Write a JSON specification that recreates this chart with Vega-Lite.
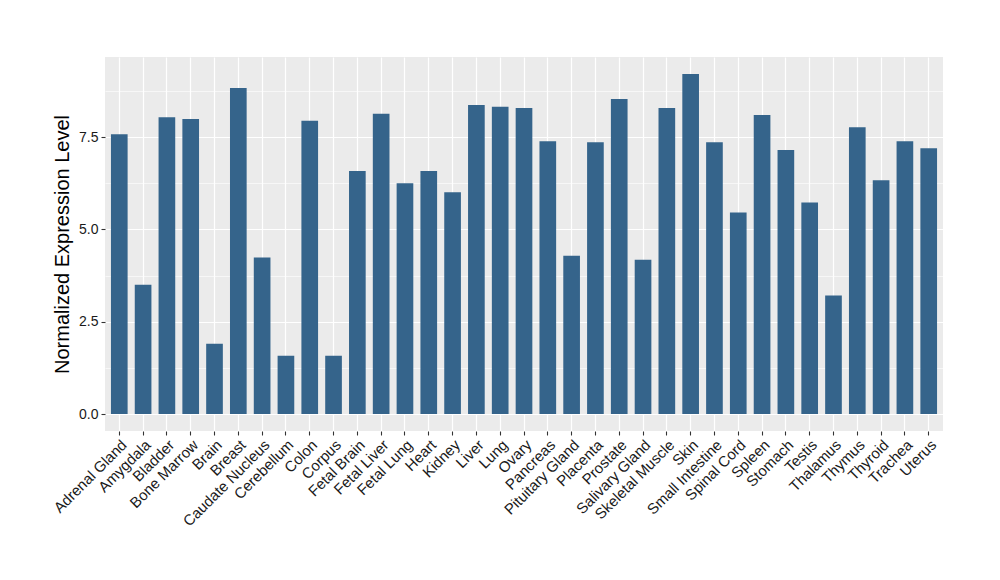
{
  "$schema": "https://vega.github.io/schema/vega-lite/v6.json",
  "width": 838,
  "height": 374,
  "autosize": {"type": "none"},
  "padding": {"left": 105, "top": 57, "right": 57, "bottom": 149},
  "background": "white",
  "config": {
    "view": {"fill": "#EBEBEB", "stroke": null},
    "font": "Liberation Sans"
  },
  "data": {
    "values": [
      {"tissue": "Adrenal Gland", "value": 7.58},
      {"tissue": "Amygdala", "value": 3.50},
      {"tissue": "Bladder", "value": 8.04},
      {"tissue": "Bone Marrow", "value": 7.99},
      {"tissue": "Brain", "value": 1.90},
      {"tissue": "Breast", "value": 8.83},
      {"tissue": "Caudate Nucleus", "value": 4.24},
      {"tissue": "Cerebellum", "value": 1.58},
      {"tissue": "Colon", "value": 7.94},
      {"tissue": "Corpus", "value": 1.58},
      {"tissue": "Fetal Brain", "value": 6.58},
      {"tissue": "Fetal Liver", "value": 8.13},
      {"tissue": "Fetal Lung", "value": 6.25},
      {"tissue": "Heart", "value": 6.58},
      {"tissue": "Kidney", "value": 6.01},
      {"tissue": "Liver", "value": 8.37},
      {"tissue": "Lung", "value": 8.32},
      {"tissue": "Ovary", "value": 8.29},
      {"tissue": "Pancreas", "value": 7.39},
      {"tissue": "Pituitary Gland", "value": 4.29},
      {"tissue": "Placenta", "value": 7.36},
      {"tissue": "Prostate", "value": 8.53},
      {"tissue": "Salivary Gland", "value": 4.18},
      {"tissue": "Skeletal Muscle", "value": 8.29},
      {"tissue": "Skin", "value": 9.21},
      {"tissue": "Small Intestine", "value": 7.36},
      {"tissue": "Spinal Cord", "value": 5.46},
      {"tissue": "Spleen", "value": 8.10},
      {"tissue": "Stomach", "value": 7.15},
      {"tissue": "Testis", "value": 5.73},
      {"tissue": "Thalamus", "value": 3.21},
      {"tissue": "Thymus", "value": 7.77},
      {"tissue": "Thyroid", "value": 6.33},
      {"tissue": "Trachea", "value": 7.39},
      {"tissue": "Uterus", "value": 7.20}
    ]
  },
  "mark": {"type": "bar", "color": "#35648B"},
  "encoding": {
    "x": {
      "field": "tissue",
      "type": "nominal",
      "sort": null,
      "scale": {"paddingInner": 0.3, "paddingOuter": 0.25},
      "axis": {
        "title": null,
        "labelAngle": -45,
        "labelAlign": "right",
        "labelBaseline": "top",
        "labelFontSize": 15,
        "labelColor": "#1A1A1A",
        "labelPadding": 2,
        "grid": true,
        "gridColor": "white",
        "gridWidth": 1.2,
        "domain": false,
        "ticks": true,
        "tickColor": "#333333",
        "tickSize": 4,
        "tickWidth": 1.1,
        "zindex": 0
      }
    },
    "y": {
      "field": "value",
      "type": "quantitative",
      "scale": {"domain": [-0.46, 9.67], "nice": false, "zero": false},
      "axis": {
        "title": "Normalized Expression Level",
        "titleFontSize": 20,
        "titleFontWeight": "normal",
        "titleColor": "black",
        "titlePadding": 6,
        "values": [0, 1.25, 2.5, 3.75, 5, 6.25, 7.5, 8.75],
        "labelExpr": "datum.value % 2.5 === 0 ? format(datum.value, '.1f') : ''",
        "labelFontSize": 14,
        "labelColor": "#1A1A1A",
        "labelPadding": 3,
        "grid": true,
        "gridColor": "white",
        "gridWidth": {"condition": {"test": "datum.value % 2.5 !== 0", "value": 0.6}, "value": 1.2},
        "domain": false,
        "tickColor": "#333333",
        "tickSize": 4,
        "tickWidth": 1.1,
        "tickOpacity": {"condition": {"test": "datum.value % 2.5 !== 0", "value": 0}, "value": 1},
        "zindex": 0
      }
    }
  }
}
